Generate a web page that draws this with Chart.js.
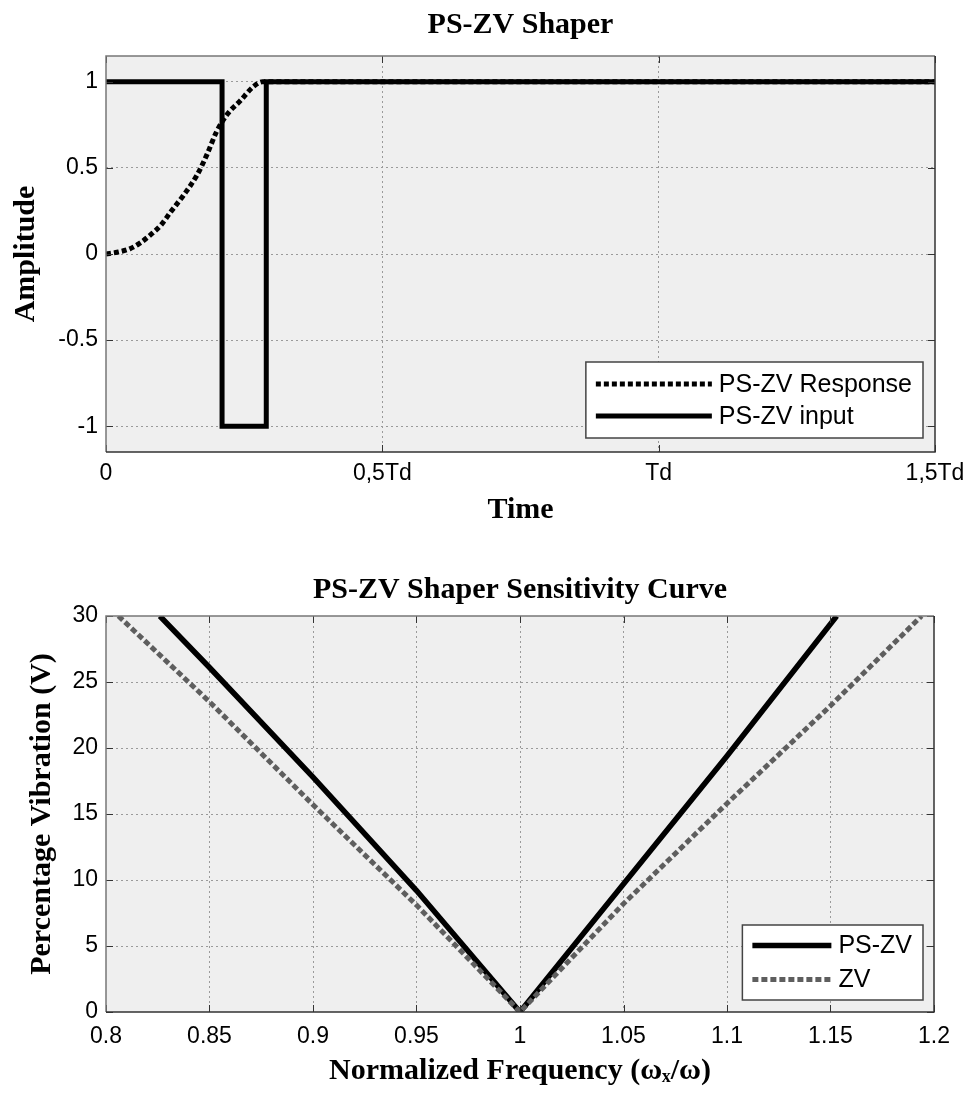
<!DOCTYPE html>
<html>
<head>
<meta charset="utf-8">
<title>PS-ZV Shaper</title>
<script src="https://cdn.jsdelivr.net/npm/chart.js@4/dist/chart.umd.min.js"></script>
<style>
  html, body { margin: 0; padding: 0; background: #fff; }
  body { width: 973px; height: 1095px; position: relative; overflow: hidden; }
  canvas { position: absolute; left: 0; }
  #shaperChart { top: 0; }
  #sensitivityChart { top: 540px; }
</style>
</head>
<body>
<canvas id="shaperChart" width="973" height="540"></canvas>
<canvas id="sensitivityChart" width="973" height="555"></canvas>
<script>
// --- top chart: shaper input / response (time in units of Td)
const inputTime = [0, 0.21, 0.21, 0.29, 0.29, 1.5];
const inputAmp = [1, 1, -1, -1, 1, 1];
const responseTime = [0, 0.02, 0.043, 0.06, 0.08, 0.1, 0.116, 0.14, 0.165, 0.183, 0.2, 0.219, 0.243, 0.266, 0.283, 1.5];
const responseAmp = [0, 0.01, 0.03, 0.06, 0.11, 0.17, 0.24, 0.34, 0.46, 0.58, 0.71, 0.81, 0.89, 0.97, 1, 1];
const timeTicks = [0, 0.5, 1, 1.5];
const timeTickLabels = ["0", "0,5Td", "Td", "1,5Td"];
const ampTicks = [-1, -0.5, 0, 0.5, 1];
const ampTickLabels = ["-1", "-0.5", "0", "0.5", "1"];

// --- bottom chart: sensitivity curves
const pszvFreq = [0.826, 0.85, 0.9, 0.95, 1.0, 1.05, 1.1, 1.153];
const pszvVib = [30, 26.1, 17.8, 9.2, 0, 9.7, 19.4, 30];
const zvFreq = [0.806, 0.85, 0.9, 0.95, 1.0, 1.05, 1.1, 1.15, 1.194];
const zvVib = [30, 23.5, 15.7, 8.1, 0, 8.2, 15.8, 23.2, 30];
const freqTicks = [0.8, 0.85, 0.9, 0.95, 1, 1.05, 1.1, 1.15, 1.2];
const freqTickLabels = ["0.8", "0.85", "0.9", "0.95", "1", "1.05", "1.1", "1.15", "1.2"];
const vibTicks = [0, 5, 10, 15, 20, 25, 30];
const vibTickLabels = ["0", "5", "10", "15", "20", "25", "30"];

const SANS = "'Liberation Sans', Arial, sans-serif";
const SERIF = "'Liberation Serif', 'Times New Roman', serif";

function toPoints(xs, ys) {
  return xs.map((x, i) => ({ x, y: ys[i] }));
}

function fixedTicks(values) {
  return (axis) => {
    axis.ticks = values.map((value) => ({ value }));
  };
}

function drawLegend(chart, opts) {
  const { ctx, chartArea: a } = chart;
  const sets = opts.order.map((i) => chart.data.datasets[i]);
  ctx.save();
  ctx.font = "25px " + SANS;
  const textW = Math.max(...sets.map((d) => ctx.measureText(d.label).width));
  const right = a.right - opts.right;
  const bottom = a.bottom - opts.bottom;
  const height = opts.rowHeight * sets.length + opts.padY * 2;
  const top = bottom - height;
  const textX = right - opts.padRight - textW;
  const lineEnd = textX - 7;
  const lineStart = lineEnd - opts.lineLength;
  const left = lineStart - 10;

  ctx.fillStyle = "#fff";
  ctx.fillRect(left, top, right - left, height);
  ctx.strokeStyle = "#444";
  ctx.lineWidth = 1.5;
  ctx.strokeRect(left, top, right - left, height);

  sets.forEach((d, i) => {
    const y = top + opts.padY + opts.rowHeight * (i + 0.5);
    ctx.setLineDash(d.borderDash || []);
    ctx.strokeStyle = d.borderColor;
    ctx.lineWidth = d.borderWidth;
    ctx.beginPath();
    ctx.moveTo(lineStart, y);
    ctx.lineTo(lineEnd, y);
    ctx.stroke();
    ctx.setLineDash([]);
    ctx.fillStyle = "#000";
    ctx.textBaseline = "middle";
    ctx.textAlign = "left";
    ctx.fillText(d.label, textX, y + 1);
  });
  ctx.restore();
}

// plot background, frame, inward ticks and the boxed legend
const framePlugin = {
  id: "frame",
  beforeDraw(chart) {
    const { ctx, chartArea: a } = chart;
    ctx.save();
    ctx.fillStyle = "#efefef";
    ctx.fillRect(a.left, a.top, a.right - a.left, a.bottom - a.top);
    ctx.restore();
  },
  afterDatasetsDraw(chart, args, opts) {
    const { ctx, chartArea: a, scales } = chart;
    ctx.save();
    ctx.strokeStyle = "#333";
    ctx.lineWidth = 1;
    const len = 7;
    scales.x.ticks.forEach((t) => {
      const px = Math.round(scales.x.getPixelForValue(t.value)) + 0.5;
      ctx.beginPath();
      ctx.moveTo(px, a.bottom);
      ctx.lineTo(px, a.bottom - len);
      ctx.moveTo(px, a.top);
      ctx.lineTo(px, a.top + len);
      ctx.stroke();
    });
    scales.y.ticks.forEach((t) => {
      const py = Math.round(scales.y.getPixelForValue(t.value)) + 0.5;
      ctx.beginPath();
      ctx.moveTo(a.left, py);
      ctx.lineTo(a.left + len, py);
      ctx.moveTo(a.right, py);
      ctx.lineTo(a.right - len, py);
      ctx.stroke();
    });
    ctx.lineWidth = 1.5;
    ctx.strokeStyle = "#777";
    ctx.beginPath();
    ctx.moveTo(a.left, a.bottom);
    ctx.lineTo(a.left, a.top);
    ctx.lineTo(a.right, a.top);
    ctx.stroke();
    ctx.strokeStyle = "#333";
    ctx.beginPath();
    ctx.moveTo(a.left, a.bottom);
    ctx.lineTo(a.right, a.bottom);
    ctx.lineTo(a.right, a.top);
    ctx.stroke();
    ctx.restore();
    if (opts && opts.legend) drawLegend(chart, opts.legend);
  },
};

function gridColor(min, max) {
  return (c) => {
    const v = c.tick ? c.tick.value : null;
    return v === min || v === max ? "transparent" : "#9a9a9a";
  };
}

function axisOptions(cfg) {
  return {
    type: "linear",
    position: cfg.position,
    min: cfg.min,
    max: cfg.max,
    afterBuildTicks: fixedTicks(cfg.ticks),
    afterFit: cfg.afterFit,
    grid: { color: gridColor(cfg.min, cfg.max), lineWidth: 1, drawTicks: false, tickLength: 0 },
    border: { display: false, dash: [2, 3] },
    ticks: {
      autoSkip: false,
      maxRotation: 0,
      padding: cfg.tickPadding,
      color: "#000",
      font: { family: SANS, size: 23 },
      callback: (value, index) => cfg.labels[index],
    },
    title: {
      display: true,
      text: cfg.title,
      color: "#000",
      font: { family: SERIF, size: 30, weight: "bold" },
      padding: cfg.titlePadding,
    },
  };
}

function baseOptions(cfg) {
  return {
    responsive: false,
    devicePixelRatio: 1,
    animation: false,
    layout: { padding: { left: 0, right: cfg.rightPad, top: 0, bottom: 0 } },
    plugins: {
      legend: { display: false },
      tooltip: { enabled: false },
      title: {
        display: true,
        fullSize: false,
        text: cfg.title,
        color: "#000",
        font: { family: SERIF, size: 30, weight: "bold" },
        padding: cfg.titlePadding,
      },
      frame: { legend: cfg.legend },
    },
    scales: { x: cfg.x, y: cfg.y },
  };
}

new Chart(document.getElementById("shaperChart"), {
  type: "line",
  data: {
    datasets: [
      {
        label: "PS-ZV Response",
        data: toPoints(responseTime, responseAmp),
        borderColor: "#000",
        borderWidth: 5,
        borderDash: [5, 3],
        pointRadius: 0,
        cubicInterpolationMode: "monotone",
      },
      {
        label: "PS-ZV input",
        data: toPoints(inputTime, inputAmp),
        borderColor: "#000",
        borderWidth: 5,
        pointRadius: 0,
        tension: 0,
      },
    ],
  },
  options: baseOptions({
    title: "PS-ZV Shaper",
    titlePadding: { top: 7, bottom: 13 },
    rightPad: 38,
    legend: { order: [0, 1], right: 12, bottom: 14, rowHeight: 32, padY: 6, padRight: 11, lineLength: 116 },
    x: axisOptions({
      position: "bottom", min: 0, max: 1.5, ticks: timeTicks, labels: timeTickLabels,
      tickPadding: 8, title: "Time", titlePadding: { top: 0, bottom: 12 },
      afterFit: (s) => { s.height = 88; },
    }),
    y: axisOptions({
      position: "left", min: -1.15, max: 1.15, ticks: ampTicks, labels: ampTickLabels,
      tickPadding: 8, title: "Amplitude", titlePadding: { top: 8, bottom: 0 },
      afterFit: (s) => { s.width = 106; },
    }),
  }),
  plugins: [framePlugin],
});

new Chart(document.getElementById("sensitivityChart"), {
  type: "line",
  data: {
    datasets: [
      {
        label: "ZV",
        data: toPoints(zvFreq, zvVib),
        borderColor: "#5e5e5e",
        borderWidth: 5,
        borderDash: [6, 3],
        pointRadius: 0,
        tension: 0,
      },
      {
        label: "PS-ZV",
        data: toPoints(pszvFreq, pszvVib),
        borderColor: "#000",
        borderWidth: 5.5,
        pointRadius: 0,
        tension: 0,
      },
    ],
  },
  options: baseOptions({
    title: "PS-ZV Shaper Sensitivity Curve",
    titlePadding: { top: 32, bottom: 8 },
    rightPad: 39,
    legend: { order: [1, 0], right: 11, bottom: 12, rowHeight: 34, padY: 3.5, padRight: 11, lineLength: 79 },
    x: axisOptions({
      position: "bottom", min: 0.8, max: 1.2, ticks: freqTicks, labels: freqTickLabels,
      tickPadding: 11, title: "Normalized Frequency (\u03c9\u2093/\u03c9)", titlePadding: { top: 0, bottom: 6 },
      afterFit: (s) => { s.height = 83; },
    }),
    y: axisOptions({
      position: "left", min: 0, max: 30, ticks: vibTicks, labels: vibTickLabels,
      tickPadding: 8, title: "Percentage Vibration (V)", titlePadding: { top: 24, bottom: 0 },
      afterFit: (s) => { s.width = 106; },
    }),
  }),
  plugins: [framePlugin],
});
</script>
</body>
</html>
